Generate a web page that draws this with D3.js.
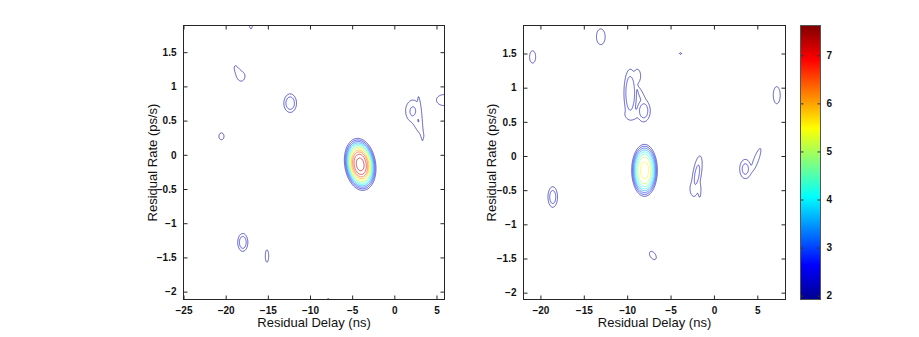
<!DOCTYPE html>
<html>
<head>
<meta charset="utf-8">
<script src="https://cdn.jsdelivr.net/npm/d3@7"></script>
<style>
  body { margin: 0; background: #fff; }
  text { font-family: "Liberation Sans", Arial, sans-serif; }
</style>
</head>
<body>
<div id="chart-area"></div>
<script>
// DATA
// peaks: [delay ns, rate ps/s, half width of outer ring (ns),
//  half height of outer ring (ps/s), peak value, tilt (ns per ps/s), shape]
var leftPeaks = [
    [-4.05, -0.14, 1.85, 0.38, 7.7, -0.8, 1.4],
    [-12.35, 0.755, 0.75, 0.135, 3.0, 0, 1],
    [-18.6, 1.22, 0.3, 0.08, 2.1, -3, 1],
    [-18.15, 1.15, 0.42, 0.06, 2.12, 0, 1],
    [-20.5, 0.27, 0.3, 0.05, 2.1, 0, 1],
    [-17.0, 1.93, 0.2, 0.09, 2.1, 0, 1],
    [2.2, 0.64, 0.85, 0.16, 2.6, 0, 1],
    [3.1, 0.53, 0.2, 0.32, 2.3, -0.73, 1],
    [2.6, 0.45, 0.35, 0.17, 2.3, -4.4, 1],
    [5.9, 0.8, 0.9, 0.08, 2.15, 0, 1],
    [-17.97, -1.28, 0.6, 0.13, 3.0, 0, 1],
    [-15.1, -1.48, 0.2, 0.09, 2.1, 0, 1],
    [-7.85, -2.14, 0.15, 0.04, 2.03, 0, 1]
];

var rightPeaks = [
    [-8.0, -0.21, 1.48, 0.38, 5.65, 0, 1.6],
    [-9.65, 0.92, 0.72, 0.35, 2.8, 0, 1.5],
    [-8.85, 1.17, 0.4, 0.1, 2.2, 0, 1],
    [-8.1, 0.66, 0.75, 0.16, 2.9, 0, 1],
    [-8.25, 0.86, 0.28, 0.15, 2.2, -3.3, 1],
    [-9.5, 0.61, 0.75, 0.08, 2.2, 0, 1],
    [-1.95, -0.27, 0.5, 0.27, 2.7, 1.2, 1],
    [-2.3, -0.48, 0.45, 0.1, 2.2, 0, 1],
    [-1.65, -0.5, 0.15, 0.1, 2.2, 0, 1],
    [3.62, -0.19, 0.65, 0.14, 2.75, 0, 1],
    [4.85, -0.06, 0.3, 0.17, 2.2, 2.8, 1],
    [7.24, 0.89, 0.4, 0.125, 2.2, 0, 1],
    [-18.58, -0.6, 0.55, 0.15, 2.9, 0, 1],
    [-7.04, -1.456, 0.35, 0.06, 2.12, -3, 1],
    [-13.04, 1.745, 0.5, 0.115, 2.2, 0, 1],
    [-20.9, 1.45, 0.35, 0.09, 2.1, 0, 1],
    [-3.85, 1.5, 0.12, 0.012, 2.01, 0, 1]
];

var levels = [2, 2.5, 3, 3.5, 4, 4.5, 5, 5.5, 6, 6.5, 7, 7.5];
var colorRange = [1.92, 7.62];
var colorTicks = [2, 3, 4, 5, 6, 7];

var leftXDomain = [-25, 5.95];
var rightXDomain = [-21.95, 8.25];
var leftYDomain = [-2.115, 1.89];
var rightYDomain = [-2.1, 1.91];
var leftXTicks = [-25, -20, -15, -10, -5, 0, 5];
var rightXTicks = [-20, -15, -10, -5, 0, 5];
var yTicks = [-2, -1.5, -1, -0.5, 0, 0.5, 1, 1.5];

// SVG
var width = 919;
var height = 337;

var svg = d3.select("#chart-area")
    .append("svg")
    .attr("width", width)
    .attr("height", height);

// jet colormap
var jetStops = [0, 0.125, 0.375, 0.625, 0.875, 1];
var jetColors = ["#00008f", "#0000ff", "#00ffff", "#ffff00", "#ff0000", "#800000"];
var jet = d3.scaleLinear()
    .domain(jetStops.map((t) => colorRange[0] + t * (colorRange[1] - colorRange[0])))
    .range(jetColors)
    .clamp(true);

// surface = soft maximum of the peaks, so touching pieces merge
function field(peaks, px, py) {
    var s = 0;
    peaks.forEach((p) => {
        var a = p[4];
        var k = Math.pow(2 * Math.log(a / 2), 1 / (2 * p[6]));
        var sx = p[2] / k, sy = p[3] / k;
        var dy = py - p[1];
        var u = (px - p[0] - p[5] * dy) / sx;
        var w = dy / sy;
        var q = u * u + w * w;
        var v = a * Math.exp(-0.5 * Math.pow(q, p[6]));
        s += Math.pow(v, 12);
    });
    return Math.pow(s, 1 / 12);
}

function drawPanel(cfg) {
    var g = svg.append("g")
        .attr("transform", "translate(" + cfg.left + "," + cfg.top + ")");

    var x = d3.scaleLinear().domain(cfg.xDomain).range([0, cfg.width]);
    var y = d3.scaleLinear().domain(cfg.yDomain).range([cfg.height, 0]);

    // grid a bit larger than the axes so rings cut by the edge stay open
    var gx0 = cfg.xDomain[0] - 1.5, gx1 = cfg.xDomain[1] + 1.5;
    var gy0 = cfg.yDomain[0] - 0.25, gy1 = cfg.yDomain[1] + 0.25;
    var nx = 640, ny = 620;
    var dx = (gx1 - gx0) / (nx - 1), dy = (gy1 - gy0) / (ny - 1);
    var values = new Float64Array(nx * ny);
    for (var j = 0; j < ny; j++) {
        for (var i = 0; i < nx; i++) {
            values[j * nx + i] = field(cfg.peaks, gx0 + i * dx, gy0 + j * dy);
        }
    }

    var contours = d3.contours()
        .size([nx, ny])
        .thresholds(levels)(values);

    var proj = d3.geoTransform({
        point: function (px, py) {
            this.stream.point(x(gx0 + (px - 0.5) * dx), y(gy0 + (py - 0.5) * dy));
        }
    });
    var path = d3.geoPath(proj);

    var clipId = "clip-" + cfg.name;
    g.append("clipPath").attr("id", clipId)
        .append("rect")
        .attr("width", cfg.width)
        .attr("height", cfg.height);

    g.append("g")
        .attr("clip-path", "url(#" + clipId + ")")
        .selectAll("path")
        .data(contours)
        .enter()
        .append("path")
        .attr("d", path)
        .attr("fill", "none")
        .attr("stroke", (d) => jet(d.value))
        .attr("stroke-width", 0.9)
        .attr("stroke-opacity", 0.7);

    // AXES (ticks inside, all four sides)
    var fmt = (d) => d3.format("")(d).replace("-", "\u2212");
    var ax = [
        { axis: d3.axisBottom(x).tickValues(cfg.xTicks).tickFormat(fmt), t: "translate(0," + cfg.height + ")" },
        { axis: d3.axisTop(x).tickValues(cfg.xTicks).tickFormat(""), t: "translate(0,0)" },
        { axis: d3.axisLeft(y).tickValues(yTicks).tickFormat(fmt), t: "translate(0,0)" },
        { axis: d3.axisRight(y).tickValues(yTicks).tickFormat(""), t: "translate(" + cfg.width + ",0)" }
    ];
    ax.forEach((a) => {
        var ag = g.append("g")
            .attr("transform", a.t)
            .call(a.axis.tickSizeInner(-4).tickSizeOuter(0).tickPadding(7));
        ag.select(".domain").remove();
        ag.selectAll(".tick line").attr("stroke", "#262626");
        ag.selectAll(".tick text")
            .attr("fill", "#111")
            .attr("font-size", "10px")
            .attr("font-weight", "bold")
            .attr("font-family", "'Liberation Sans', Arial, sans-serif");
    });

    g.append("rect")
        .attr("width", cfg.width)
        .attr("height", cfg.height)
        .attr("fill", "none")
        .attr("stroke", "#262626")
        .attr("stroke-width", 1);

    g.append("text")
        .attr("x", cfg.width / 2)
        .attr("y", cfg.height + 27)
        .attr("font-size", "13px")
        .attr("text-anchor", "middle")
        .attr("fill", "#111")
        .text("Residual Delay (ns)");

    g.append("text")
        .attr("x", -cfg.height / 2)
        .attr("y", cfg.yLabel)
        .attr("font-size", "13px")
        .attr("text-anchor", "middle")
        .attr("transform", "rotate(-90)")
        .attr("fill", "#111")
        .text("Residual Rate (ps/s)");
}

drawPanel({ name: "left", left: 183.5, top: 25.5, width: 261, height: 274,
    xDomain: leftXDomain, yDomain: leftYDomain, xTicks: leftXTicks, peaks: leftPeaks, yLabel: -27 });
drawPanel({ name: "right", left: 523.5, top: 25.5, width: 262, height: 274,
    xDomain: rightXDomain, yDomain: rightYDomain, xTicks: rightXTicks, peaks: rightPeaks, yLabel: -28 });

// COLORBAR
var cb = { left: 800.5, top: 25.5, width: 20, height: 274 };
var cy = d3.scaleLinear().domain(colorRange).range([cb.height, 0]);

var grad = svg.append("defs").append("linearGradient")
    .attr("id", "jet-grad")
    .attr("x1", 0).attr("y1", 1).attr("x2", 0).attr("y2", 0);
grad.selectAll("stop")
    .data(d3.range(0, 1.0001, 1 / 64))
    .enter()
    .append("stop")
    .attr("offset", (t) => t)
    .attr("stop-color", (t) => jet(colorRange[0] + t * (colorRange[1] - colorRange[0])));

var cbg = svg.append("g")
    .attr("transform", "translate(" + cb.left + "," + cb.top + ")");

cbg.append("rect")
    .attr("width", cb.width)
    .attr("height", cb.height)
    .attr("fill", "url(#jet-grad)");

var cbRight = cbg.append("g")
    .attr("transform", "translate(" + cb.width + ",0)")
    .call(d3.axisRight(cy).tickValues(colorTicks).tickFormat(d3.format("d"))
        .tickSizeInner(-3).tickSizeOuter(0).tickPadding(6));
cbRight.select(".domain").remove();
cbRight.selectAll(".tick text")
    .attr("fill", "#111")
    .attr("font-size", "10px")
    .attr("font-weight", "bold")
    .attr("font-family", "'Liberation Sans', Arial, sans-serif");

var cbLeft = cbg.append("g")
    .call(d3.axisLeft(cy).tickValues(colorTicks).tickSizeInner(-3).tickSizeOuter(0).tickFormat(""));
cbLeft.select(".domain").remove();
cbg.selectAll(".tick line").attr("stroke", "#333");

cbg.append("rect")
    .attr("width", cb.width)
    .attr("height", cb.height)
    .attr("fill", "none")
    .attr("stroke", "#555")
    .attr("stroke-width", 1);
</script>
</body>
</html>
